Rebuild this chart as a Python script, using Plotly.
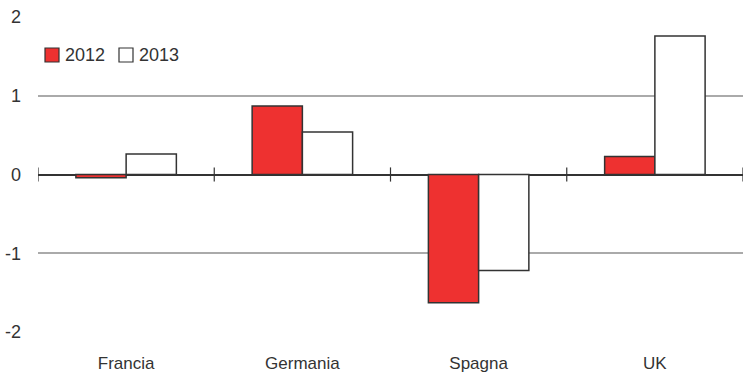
import plotly.graph_objects as go

# Data
categories = ["Francia", "Germania", "Spagna", "UK"]
series_names = ["2012", "2013"]
values_2012 = [-0.04, 0.87, -1.63, 0.23]
values_2013 = [0.26, 0.54, -1.22, 1.76]
y_ticks = [-2, -1, 0, 1, 2]
y_ticklabels = ["-2", "-1", "0", "1", "2"]

RED = "#ee3130"
EDGE = "#333333"
FONT = "DejaVu Sans Condensed, Liberation Sans Narrow, Liberation Sans, sans-serif"
FONT2 = "Liberation Sans, Arial, sans-serif"

fills = [RED, "white"]
fig = go.Figure()
for name, vals, fill in zip(series_names, [values_2012, values_2013], fills):
    fig.add_trace(go.Bar(
        name=name, x=categories, y=vals, showlegend=False,
        marker=dict(color=fill, line=dict(color=EDGE, width=1.5)),
    ))

# Tick marks crossing the zero line at category boundaries
shapes = []
for i in range(len(categories) + 1):
    shapes.append(dict(
        type="line", xref="x", yref="y",
        x0=i - 0.5, x1=i - 0.5, y0=-0.09, y1=0.09,
        line=dict(color=EDGE, width=1.2),
    ))

# Legend drawn in pixel space from the top-left of the figure
W, H = 743, 374
annotations = []
legend_x = [45, 119]
for name, fill, lx in zip(series_names, fills, legend_x):
    shapes.append(dict(
        type="rect", xref="paper", yref="paper",
        x0=(lx - 38) / 705, x1=(lx + 14 - 38) / 705,
        y0=1 - (62 - 17) / 315, y1=1 - (48 - 17) / 315,
        fillcolor=fill, line=dict(color=EDGE, width=1.2),
    ))
    annotations.append(dict(
        xref="paper", yref="paper", x=(lx + 18 - 38) / 705, y=1 - (55 - 17) / 315,
        xanchor="left", yanchor="middle", showarrow=False, text=name,
        font=dict(family=FONT2, size=18, color="#333333"),
    ))

fig.update_layout(
    width=W, height=H,
    margin=dict(l=38, r=0, t=17, b=42),
    paper_bgcolor="white", plot_bgcolor="white",
    barmode="group", bargap=0.43, bargroupgap=0,
    font=dict(family=FONT2, size=17, color="#333333"),
    showlegend=False,
    xaxis=dict(
        type="category", range=[-0.5, len(categories) - 0.5],
        showgrid=False, zeroline=False, showline=False, ticks="",
        tickfont=dict(family=FONT2, size=17, color="#333333"),
        ticklabelstandoff=19,
    ),
    yaxis=dict(
        range=[-2, 2], tickvals=y_ticks, ticktext=y_ticklabels,
        showgrid=True, gridcolor="#aaaaaa", gridwidth=1.5,
        zeroline=True, zerolinecolor=EDGE, zerolinewidth=1.5,
        showline=False, ticks="",
        tickfont=dict(family=FONT2, size=18, color="#333333"),
        ticklabelstandoff=16,
    ),
    shapes=shapes,
    annotations=annotations,
)

fig.write_html("out.html")
